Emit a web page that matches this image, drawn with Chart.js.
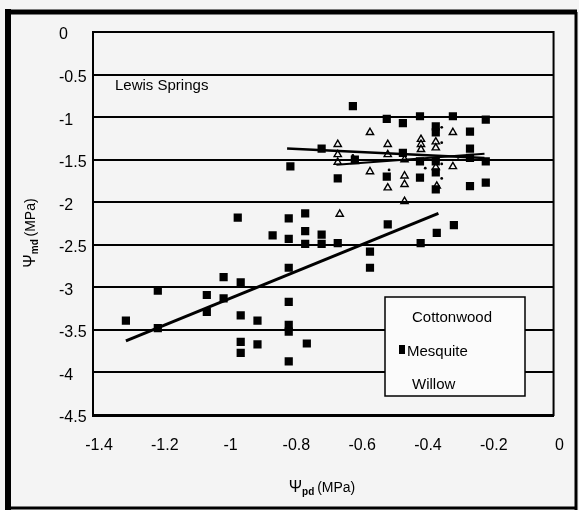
<!DOCTYPE html>
<html>
<head>
<meta charset="utf-8">
<script src="https://cdn.jsdelivr.net/npm/chart.js@4"></script>
<style>
  body { margin: 0; background: #f4f4f4; }
  canvas { display: block; }
</style>
</head>
<body>
<canvas id="scatterChart" width="579" height="510"></canvas>
<script>
// values (Lewis Springs)
const mesquiteX = [-0.96, -0.805, -0.755, -0.854, -0.805, -0.755, -0.755, -0.805, -1.003, -0.951,
  -1.203, -1.054, -1.003, -1.054, -0.805, -1.30, -0.951, -0.90, -1.203, -0.805,
  -0.805, -0.951, -0.90, -0.951, -0.75, -0.805, -0.705, -0.705, -0.656, -0.558,
  -0.558, -0.504, -0.404, -0.355, -0.303,
  -0.61, -0.507, -0.458, -0.406, -0.306, -0.206, -0.358, -0.358, -0.254, -0.254,
  -0.254, -0.206, -0.254, -0.206, -0.406, -0.656, -0.80, -0.705, -0.604, -0.507,
  -0.458, -0.358, -0.358, -0.358, -0.406];
const mesquiteY = [-2.18, -2.19, -2.13, -2.39, -2.43, -2.34, -2.49, -2.77, -2.88, -2.94,
  -3.04, -3.09, -3.13, -3.29, -3.17, -3.39, -3.33, -3.39, -3.48, -3.44,
  -3.52, -3.64, -3.67, -3.77, -3.66, -3.87, -2.38, -2.49, -2.48, -2.58,
  -2.77, -2.26, -2.48, -2.36, -2.27,
  -0.87, -1.02, -1.07, -0.99, -0.99, -1.03, -1.11, -1.18, -1.17, -1.37,
  -1.48, -1.52, -1.81, -1.77, -1.71, -1.72, -1.58, -1.37, -1.50, -1.70,
  -1.42, -1.85, -1.52, -1.65, -1.52];

const willowX = [-0.558, -0.306, -0.403, -0.403, -0.358, -0.358, -0.656, -0.656, -0.656, -0.504,
  -0.504, -0.558, -0.453, -0.453, -0.453, -0.504, -0.453, -0.355, -0.306, -0.358,
  -0.604, -0.65, -0.403];
const willowY = [-1.18, -1.18, -1.26, -1.32, -1.29, -1.36, -1.32, -1.44, -1.53, -1.32,
  -1.44, -1.64, -1.50, -1.69, -1.79, -1.83, -1.99, -1.81, -1.58, -1.59,
  -1.52, -2.14, -1.38];

const cottonwoodX = [-0.34, -0.34, -0.34, -0.34, -0.39, -0.50, -0.61, -0.29];
const cottonwoodY = [-1.12, -1.30, -1.55, -1.72, -1.60, -1.62, -1.45, -1.50];

// regression line end points
const mesquiteFitX = [-1.30, -0.35];
const mesquiteFitY = [-3.63, -2.13];
const cottonwoodFitX = [-0.81, -0.21];
const cottonwoodFitY = [-1.37, -1.48];
const willowFitX = [-0.66, -0.21];
const willowFitY = [-1.56, -1.43];

const xTickValues = [-1.4, -1.2, -1, -0.8, -0.6, -0.4, -0.2, 0];
const xTickText = ['-1.4', '-1.2', '-1', '-0.8', '-0.6', '-0.4', '-0.2', '0'];
const yTickValues = [0, -0.5, -1, -1.5, -2, -2.5, -3, -3.5, -4, -4.5];
const yTickText = ['0', '-0.5', '-1', '-1.5', '-2', '-2.5', '-3', '-3.5', '-4', '-4.5'];

const legendNames = ['Cottonwood', 'Mesquite', 'Willow'];

const toPoints = (xs, ys) => xs.map((x, i) => ({ x: x, y: ys[i] }));
const FONT = '"Liberation Sans", Arial, sans-serif';

// frame, plot border, legend box, labels and axis titles
const decor = {
  id: 'decor',
  beforeDraw(chart) {
    const c = chart.ctx;
    c.save();
    c.fillStyle = '#f4f4f4';
    c.fillRect(0, 0, chart.width, chart.height);
    c.restore();
  },
  afterDraw(chart) {
    const c = chart.ctx;
    const a = chart.chartArea;
    c.save();
    c.strokeStyle = '#000';

    // outer frame
    c.lineWidth = 6;
    c.beginPath(); c.moveTo(8, 9); c.lineTo(8, 510); c.stroke();
    c.lineWidth = 5;
    c.beginPath(); c.moveTo(5, 12); c.lineTo(577, 12); c.stroke();
    c.lineWidth = 3;
    c.beginPath(); c.moveTo(576, 12); c.lineTo(576, 510); c.stroke();
    c.beginPath(); c.moveTo(5, 508); c.lineTo(577, 508); c.stroke();

    // plot border
    c.lineWidth = 2;
    c.strokeRect(a.left, a.top, a.right - a.left, a.bottom - a.top);

    // legend
    c.fillStyle = '#fbfbfb';
    c.fillRect(385, 297, 140, 99);
    c.lineWidth = 1.5;
    c.strokeRect(385, 297, 140, 99);
    c.fillStyle = '#000';
    c.font = '15px ' + FONT;
    c.textBaseline = 'middle';
    c.textAlign = 'left';
    c.fillText(legendNames[0], 412, 318);
    c.fillRect(399, 345, 6, 9);
    c.fillText(legendNames[1], 407, 352);
    c.fillText(legendNames[2], 412, 385);

    // site label
    c.fillText('Lewis Springs', 115, 86);

    // x title: Ψpd (MPa)
    c.textBaseline = 'alphabetic';
    const drawTitle = (cx, cy, sub) => {
      c.font = '16px ' + FONT;
      const w1 = c.measureText('\u03A8').width;
      c.font = '10px ' + FONT;
      const w2 = c.measureText(sub).width;
      c.font = '14px ' + FONT;
      const w3 = c.measureText(' (MPa)').width;
      let x = cx - (w1 + w2 + w3) / 2;
      c.font = '16px ' + FONT;
      c.fillText('\u03A8', x, cy + 5);
      x += w1;
      c.font = 'bold 10px ' + FONT;
      c.fillText(sub, x, cy + 8);
      x += w2;
      c.font = '14px ' + FONT;
      c.fillText(' (MPa)', x, cy + 5);
    };
    drawTitle(322, 487, 'pd');

    // y title: Ψmd (MPa), rotated
    c.translate(30, 233);
    c.rotate(-Math.PI / 2);
    drawTitle(0, 0, 'md');
    c.restore();
  }
};

new Chart(document.getElementById('scatterChart').getContext('2d'), {
  type: 'scatter',
  data: {
    datasets: [
      {
        label: legendNames[1],
        data: toPoints(mesquiteX, mesquiteY),
        pointStyle: 'rect',
        pointRadius: 5.8,
        backgroundColor: '#000',
        borderColor: '#000',
        borderWidth: 0
      },
      {
        label: legendNames[2],
        data: toPoints(willowX, willowY),
        pointStyle: 'triangle',
        pointRadius: 4.2,
        backgroundColor: 'rgba(255,255,255,0)',
        borderColor: '#000',
        borderWidth: 1.4
      },
      {
        label: legendNames[0],
        data: toPoints(cottonwoodX, cottonwoodY),
        pointStyle: 'circle',
        pointRadius: 1.4,
        backgroundColor: '#000',
        borderColor: '#000',
        borderWidth: 0
      },
      {
        type: 'line',
        label: 'Mesquite fit',
        data: toPoints(mesquiteFitX, mesquiteFitY),
        borderColor: '#000',
        borderWidth: 3,
        pointRadius: 0,
        fill: false
      },
      {
        type: 'line',
        label: 'Cottonwood fit',
        data: toPoints(cottonwoodFitX, cottonwoodFitY),
        borderColor: '#000',
        borderWidth: 2.5,
        pointRadius: 0,
        fill: false
      },
      {
        type: 'line',
        label: 'Willow fit',
        data: toPoints(willowFitX, willowFitY),
        borderColor: '#000',
        borderWidth: 2,
        pointRadius: 0,
        fill: false
      }
    ]
  },
  options: {
    responsive: false,
    animation: false,
    layout: { padding: { left: 59, top: 32, right: 25, bottom: 0 } },
    plugins: {
      legend: { display: false },
      tooltip: { enabled: false }
    },
    scales: {
      x: {
        type: 'linear',
        min: -1.4,
        max: 0,
        afterFit: s => { s.height = 95; },
        afterBuildTicks: s => { s.ticks = xTickValues.map(v => ({ value: v })); },
        grid: { display: false, drawTicks: false },
        border: { display: true, color: '#000', width: 3 },
        ticks: {
          padding: 21,
          labelOffset: 6,
          color: '#000',
          font: { family: FONT, size: 16 },
          callback: v => xTickText[xTickValues.indexOf(v)]
        }
      },
      y: {
        type: 'linear',
        min: -4.5,
        max: 0,
        afterFit: s => { s.width = 34; },
        afterBuildTicks: s => { s.ticks = yTickValues.map(v => ({ value: v })); },
        grid: { color: '#000', lineWidth: 2, drawTicks: false },
        border: { display: true, color: '#000', width: 2 },
        ticks: {
          crossAlign: 'far',
          labelOffset: 3,
          color: '#000',
          font: { family: FONT, size: 16 },
          callback: v => yTickText[yTickValues.indexOf(v)]
        }
      }
    }
  },
  plugins: [decor]
});
</script>
</body>
</html>
